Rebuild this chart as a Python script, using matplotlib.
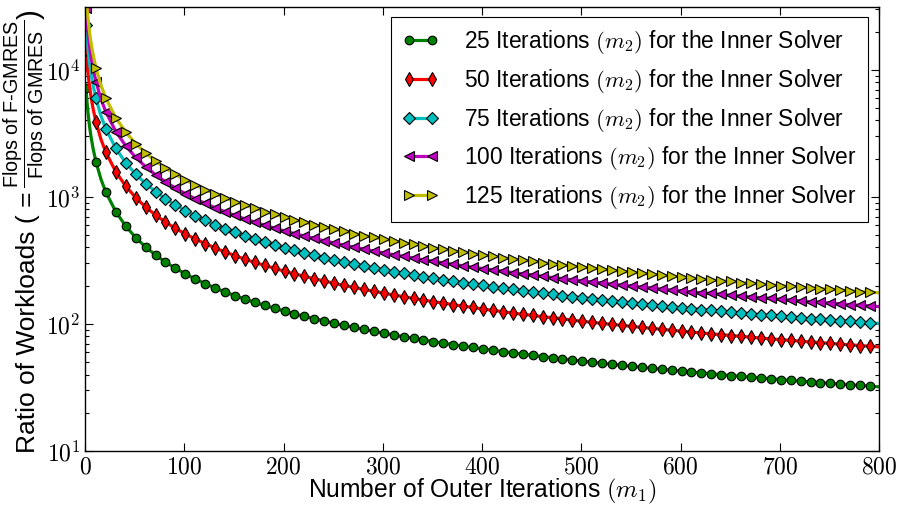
import math
import matplotlib
matplotlib.use("Agg")
import matplotlib.pyplot as plt
from matplotlib.ticker import FixedLocator, FuncFormatter, LogLocator, NullFormatter

# outer iteration counts (m1) used for the curves; markers sit on 1, 11, 21, ...
m1 = [1, 2, 3, 4, 5, 6, 8, 11, 16] + list(range(21, 792, 10)) + [800]

ratio_25 = [
    7140, 5587, 4589, 3894, 3382, 2988, 2425, 1890, 1382,
    1089, 765, 589, 479, 404, 349, 307, 275, 248, 226,
    208, 192, 179, 167, 157, 148, 140, 133, 126, 120,
    115, 110, 106, 101, 97.5, 93.9, 90.6, 87.5, 84.6, 82.0,
    79.4, 77.0, 74.8, 72.7, 70.7, 68.8, 67.0, 65.3, 63.7, 62.1,
    60.7, 59.3, 57.9, 56.7, 55.4, 54.3, 53.1, 52.1, 51.0, 50.0,
    49.1, 48.2, 47.3, 46.4, 45.6, 44.8, 44.0, 43.3, 42.6, 41.9,
    41.2, 40.6, 39.9, 39.3, 38.7, 38.2, 37.6, 37.1, 36.5, 36.0,
    35.5, 35.0, 34.6, 34.1, 33.7, 33.2, 32.8, 32.4, 32.0,
]
ratio_50 = [
    14722, 11522, 9464, 8030, 6974, 6163, 5000, 3897, 2849,
    2246, 1577, 1216, 989, 833, 720, 634, 566, 512, 467,
    429, 397, 369, 345, 324, 305, 289, 274, 260, 248,
    237, 227, 218, 209, 201, 194, 187, 181, 175, 169,
    164, 159, 154, 150, 146, 142, 138, 135, 131, 128,
    125, 122, 119, 117, 114, 112, 110, 107, 105, 103,
    101, 99.3, 97.5, 95.7, 94.0, 92.4, 90.8, 89.3, 87.8, 86.4,
    85.0, 83.6, 82.4, 81.1, 79.9, 78.7, 77.5, 76.4, 75.3, 74.3,
    73.2, 72.2, 71.3, 70.3, 69.4, 68.5, 67.6, 66.8, 66.0,
]
ratio_75 = [
    22500, 17609, 14464, 12273, 10658, 9419, 7642, 5956, 4355,
    3432, 2411, 1858, 1511, 1274, 1101, 969, 865, 782, 713,
    655, 606, 564, 527, 495, 467, 441, 418, 398, 379,
    362, 347, 333, 319, 307, 296, 286, 276, 267, 258,
    250, 243, 236, 229, 223, 217, 211, 206, 201, 196,
    191, 187, 183, 179, 175, 171, 167, 164, 161, 158,
    155, 152, 149, 146, 144, 141, 139, 136, 134, 132,
    130, 128, 126, 124, 122, 120, 118, 117, 115, 114,
    112, 110, 109, 107, 106, 105, 103, 102, 101,
]
ratio_100 = [
    30556, 23913, 19643, 16667, 14474, 12791, 10377, 8088, 5914,
    4661, 3274, 2523, 2052, 1730, 1495, 1316, 1175, 1062, 968,
    890, 823, 766, 716, 672, 634, 599, 568, 540, 515,
    492, 471, 452, 434, 417, 402, 388, 375, 362, 351,
    340, 330, 320, 311, 303, 294, 287, 279, 273, 266,
    260, 254, 248, 243, 237, 232, 227, 223, 218, 214,
    210, 206, 202, 199, 195, 192, 188, 185, 182, 179,
    176, 174, 171, 168, 166, 163, 161, 159, 156, 154,
    152, 150, 148, 146, 144, 142, 140, 139, 137,
]
ratio_125 = [
    39167, 30652, 25179, 21364, 18553, 16395, 13302, 10368, 7581,
    5975, 4196, 3234, 2631, 2217, 1916, 1687, 1506, 1361, 1241,
    1141, 1055, 982, 918, 862, 812, 768, 728, 693, 660,
    631, 604, 579, 556, 535, 515, 497, 480, 464, 450,
    436, 423, 410, 399, 388, 377, 368, 358, 349, 341,
    333, 325, 318, 311, 304, 298, 292, 286, 280, 275,
    269, 264, 259, 255, 250, 246, 242, 238, 234, 230,
    226, 223, 219, 216, 212, 209, 206, 203, 200, 198,
    195, 192, 190, 187, 185, 182, 180, 178, 176,
]

inner_iters = [25, 50, 75, 100, 125]
series = [ratio_25, ratio_50, ratio_75, ratio_100, ratio_125]
colors = [(0, 0.5, 0), (1, 0, 0), (0, 0.75, 0.75), (0.75, 0, 0.75), (0.75, 0.75, 0)]
markers = ["o", "d", "D", "<", ">"]
msizes = [6.2, 7.5, 6.5, 7.2, 7.2]
x_ticks = [0, 100, 200, 300, 400, 500, 600, 700, 800]
y_ticks = [10, 100, 1000, 10000]

plt.rcParams["font.family"] = ["Liberation Sans", "DejaVu Sans"]
plt.rcParams["mathtext.fontset"] = "cm"
plt.rcParams["mathtext.rm"] = "Liberation Sans"
plt.rcParams["mathtext.sf"] = "Liberation Sans"
plt.rcParams["mathtext.it"] = "Liberation Sans:italic"

marker_idx = [i for i, x in enumerate(m1) if (x - 1) % 10 == 0]

W, H = 899, 512
fig = plt.figure(figsize=(W / 100, H / 100), dpi=100)
ax = fig.add_axes([0.0946, 0.1191, 0.8832, 0.8663])

for m2, vals, col, mk, ms in zip(inner_iters, series, colors, markers, msizes):
    ax.plot(m1, vals, color=col, lw=2.3, marker=mk, markevery=marker_idx,
            ms=ms, mfc=col, mec="black", mew=0.8,
            label=r"%d Iterations $(m_2)$ for the Inner Solver" % m2)

ax.set_yscale("log")
ax.set_xlim(0, 800)
ax.set_ylim(10, 3.1e4)

ax.xaxis.set_major_locator(FixedLocator(x_ticks))
ax.xaxis.set_major_formatter(FuncFormatter(lambda v, p: r"$%d$" % v))
ax.yaxis.set_major_locator(FixedLocator(y_ticks))
ax.yaxis.set_major_formatter(FuncFormatter(lambda v, p: r"$10^{%d}$" % round(math.log10(v))))
ax.yaxis.set_minor_locator(LogLocator(base=10, subs=range(2, 10)))
ax.yaxis.set_minor_formatter(NullFormatter())

ax.tick_params(which="both", direction="in", top=True, right=True, labelsize=17)
ax.tick_params(which="major", length=6, width=0.8)
ax.tick_params(which="minor", length=3, width=0.8)
ax.tick_params(axis="x", pad=4)
ax.tick_params(axis="y", pad=3.5)
for sp in ax.spines.values():
    sp.set_linewidth(1.0)

ax.set_xlabel(r"Number of Outer Iterations $(m_1)$", fontsize=17.7, labelpad=-1)

leg = ax.legend(loc="upper right", numpoints=2, fontsize=16.4, fancybox=False,
                framealpha=1, edgecolor="black", handlelength=1.6,
                handletextpad=1.1, labelspacing=0.47, borderpad=0.5,
                borderaxespad=0, bbox_to_anchor=(0.986, 0.979))
leg.get_frame().set_linewidth(0.8)

# y label built from three rotated pieces so the flops fraction keeps a readable size
fig.canvas.draw()
renderer = fig.canvas.get_renderer()
y_start = H - 453
part1 = fig.text(28.5 / W, y_start / H, "Ratio of Workloads ( =", rotation=90,
                 fontsize=19, ha="center", va="bottom")
top1 = part1.get_window_extent(renderer).y1
part2 = fig.text(25.5 / W, (top1 + 3) / H,
                 r"$\dfrac{\mathsf{Flops\ of\ F\text{-}GMRES}}{\mathsf{Flops\ of\ GMRES}}$",
                 rotation=90, fontsize=14.2, ha="center", va="bottom")
part2.set_math_fontfamily("custom")
top2 = part2.get_window_extent(renderer).y1
fig.text(31 / W, (top2 + 1) / H, ")", rotation=90, fontsize=21,
         ha="center", va="bottom")

fig.savefig("out.png", dpi=100)
